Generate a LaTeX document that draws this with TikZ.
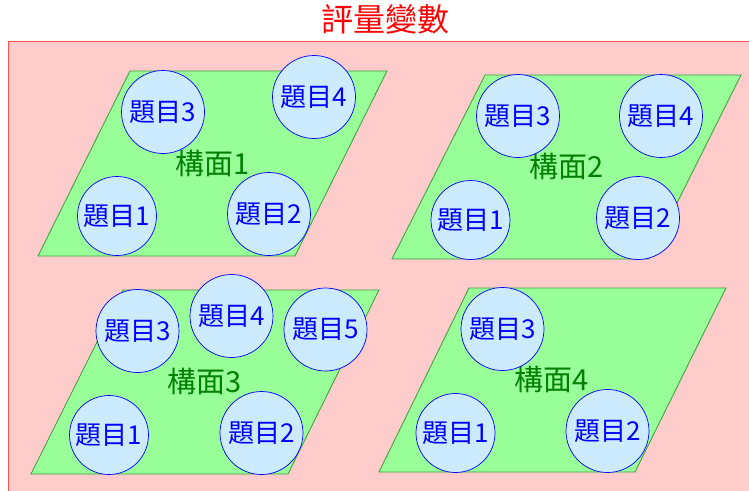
\documentclass[tikz,border=0pt]{standalone}
\usepackage{fontspec}
\setmainfont{Noto Sans CJK TC}
\definecolor{pinkfill}{HTML}{FFCCCC}
\definecolor{pinkline}{HTML}{FF4F4F}
\definecolor{facetfill}{HTML}{99FF99}
\definecolor{facetline}{HTML}{3A9A3A}
\definecolor{itemfill}{HTML}{CCEBFF}
\definecolor{labelgreen}{HTML}{008000}
\begin{document}
\begin{tikzpicture}[x=1pt,y=-1pt,
  item/.style={circle, draw=blue, fill=itemfill, line width=0.7pt, minimum size=83pt, inner sep=0pt, text=blue, font=\fontsize{26}{26}\selectfont},
  smallitem/.style={item, minimum size=79pt},
  facet/.style={draw=facetline, fill=facetfill, line width=0.8pt},
  flabel/.style={text=labelgreen, font=\fontsize{29}{29}\selectfont, inner sep=0pt}]
\useasboundingbox (0,0) rectangle (749,490);
\fill[pinkfill] (8,41) rectangle (760,500);
\draw[pinkline, line width=0.8pt] (8,500) -- (8,41) -- (760,41);
\node[text=red, font=\fontsize{32}{32}\selectfont, inner sep=0pt] (title) at (385,19) {評量變數};
% facet 1
\coordinate (f1a) at (38,256); \coordinate (f1b) at (295,256);
\coordinate (f1c) at (387,71); \coordinate (f1d) at (130,71);
\draw[facet] (f1a) -- (f1b) -- (f1c) -- (f1d) -- cycle;
\node[flabel] (l1) at (213,163) {構面1};
\node[item] (q13) at (163,112) {題目3};
\node[item] (q14) at (314,97) {題目4};
\node[smallitem] (q11) at (117,216) {題目1};
\node[item] (q12) at (269,214) {題目2};
% facet 2
\coordinate (f2a) at (392,259); \coordinate (f2b) at (649,259);
\coordinate (f2c) at (741,75); \coordinate (f2d) at (485,75);
\draw[facet] (f2a) -- (f2b) -- (f2c) -- (f2d) -- cycle;
\node[flabel] (l2) at (567,166) {構面2};
\node[item] (q23) at (518,116) {題目3};
\node[item] (q24) at (661,116) {題目4};
\node[smallitem] (q21) at (470.5,220) {題目1};
\node[item] (q22) at (638,218) {題目2};
% facet 3
\coordinate (f3a) at (31,474); \coordinate (f3b) at (288,474);
\coordinate (f3c) at (379,290); \coordinate (f3d) at (123,290);
\draw[facet] (f3a) -- (f3b) -- (f3c) -- (f3d) -- cycle;
\node[flabel] (l3) at (205,381) {構面3};
\node[item] (q33) at (137.5,331) {題目3};
\node[item] (q34) at (231.5,316) {題目4};
\node[item] (q35) at (325.5,329.5) {題目5};
\node[smallitem] (q31) at (109,435) {題目1};
\node[item] (q32) at (261.5,433) {題目2};
% facet 4
\coordinate (f4a) at (379,472); \coordinate (f4b) at (635,472);
\coordinate (f4c) at (726,288); \coordinate (f4d) at (469,288);
\draw[facet] (f4a) -- (f4b) -- (f4c) -- (f4d) -- cycle;
\node[flabel] (l4) at (552,379) {構面4};
\node[item] (q43) at (502.5,329) {題目3};
\node[smallitem] (q41) at (455.5,433) {題目1};
\node[item] (q42) at (607.5,431) {題目2};
\end{tikzpicture}
\end{document}
